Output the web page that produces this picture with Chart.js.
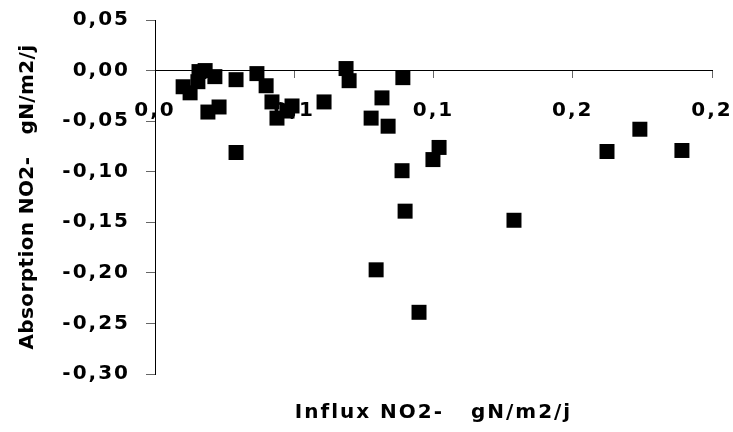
<!DOCTYPE html>
<html>
<head>
<meta charset="utf-8">
<script src="https://cdn.jsdelivr.net/npm/chart.js@4/dist/chart.umd.min.js"></script>
<style>
  html, body { margin: 0; padding: 0; background: #fff; }
  #wrap { width: 733px; height: 432px; }
</style>
</head>
<body>
<div id="wrap"><canvas id="influxChart"></canvas></div>
<script>
// Influx vs absorption NO2- (gN/m2/j)
const influx = [0.0101, 0.0126, 0.0158, 0.0180, 0.0154, 0.0215, 0.0190, 0.0230, 0.0291, 0.0291,
                0.0366, 0.0399, 0.0420, 0.0438, 0.0492, 0.0474, 0.0607, 0.0686, 0.0697, 0.0776,
                0.0815, 0.0837, 0.0890, 0.0887, 0.0898, 0.0794, 0.0948, 0.0998, 0.1020, 0.1289,
                0.1623, 0.1741, 0.1892];
const absorption = [-0.016, -0.022, -0.001, 0.000, -0.011, -0.006, -0.041, -0.036, -0.009, -0.081,
                    -0.003, -0.015, -0.031, -0.047, -0.035, -0.040, -0.031, 0.002, -0.010, -0.047,
                    -0.027, -0.055, -0.007, -0.099, -0.139, -0.197, -0.239, -0.088, -0.076, -0.148,
                    -0.080, -0.058, -0.079];
const xTickLabels = ['0,0', '0,1', '0,1', '0,2', '0,2'];
const yTickLabels = ['-0,30', '-0,25', '-0,20', '-0,15', '-0,10', '-0,05', '0,00', '0,05'];

const FONT = "'DejaVu Sans', sans-serif";

// canvas letter spacing, like the stretched Excel text
const spacingPlugin = {
    id: 'spacing',
    beforeDraw(chart) {
        chart.ctx.letterSpacing = '2px';
        Object.values(chart.scales).forEach(s => {
            if (s._spaced) return;
            const orig = s.drawTitle.bind(s);
            s.drawTitle = function() {
                this.ctx.save();
                this.ctx.letterSpacing = this.options.title.spacing || '0px';
                orig();
                this.ctx.restore();
            };
            s._spaced = true;
        });
    }
};

document.addEventListener('DOMContentLoaded', () => {
    const ctx = document.getElementById('influxChart');
    new Chart(ctx, {
        type: 'scatter',
        data: {
            datasets: [{
                data: influx.map((x, i) => ({ x: x, y: absorption[i] })),
                pointStyle: 'rect',
                pointRadius: 10.6,
                pointHoverRadius: 10.6,
                backgroundColor: '#000',
                borderColor: '#000',
                borderWidth: 0
            }]
        },
        options: {
            responsive: true,
            maintainAspectRatio: false,
            animation: false,
            layout: { padding: { left: 0, right: 21, top: 20, bottom: 0 } },
            plugins: { legend: { display: false }, tooltip: { enabled: false } },
            scales: {
                x: {
                    type: 'linear',
                    position: { y: 0 },
                    min: 0,
                    max: 0.2,
                    ticks: {
                        stepSize: 0.05,
                        padding: 21,
                        maxRotation: 0,
                        color: '#000',
                        font: { family: FONT, size: 20, weight: 'bold' },
                        callback: (v, i) => xTickLabels[i]
                    },
                    grid: { drawOnChartArea: false, drawTicks: true, tickLength: 7, color: '#666' },
                    border: { display: true, color: '#000', width: 1 },
                    afterFit: (s) => { s.paddingLeft = 0; s.paddingRight = 0; }
                },
                xTitle: {
                    type: 'linear',
                    axis: 'x',
                    position: 'bottom',
                    min: 0,
                    max: 0.2,
                    ticks: { display: false },
                    grid: { display: false },
                    border: { display: false },
                    title: {
                        display: true,
                        text: 'Influx NO2-   gN/m2/j',
                        color: '#000',
                        spacing: '2px',
                        font: { family: FONT, size: 20, weight: 'bold' },
                        padding: { top: 0, bottom: 7 }
                    },
                    afterFit: (s) => { s.height = 58; }
                },
                y: {
                    type: 'linear',
                    position: 'left',
                    min: -0.30,
                    max: 0.05,
                    ticks: {
                        stepSize: 0.05,
                        padding: 16,
                        color: '#000',
                        font: { family: FONT, size: 20, weight: 'bold' },
                        callback: (v, i) => yTickLabels[i]
                    },
                    grid: { drawOnChartArea: false, drawTicks: true, tickLength: 9, color: '#666' },
                    border: { display: true, color: '#000', width: 1 },
                    title: {
                        display: true,
                        text: 'Absorption NO2-   gN/m2/j',
                        color: '#000',
                        spacing: '0.4px',
                        font: { family: FONT, size: 20, weight: 'bold' },
                        padding: { top: 16, bottom: 0 }
                    },
                    afterFit: (s) => { s.width = 155; s.paddingTop = 0; s.paddingBottom = 0; }
                }
            }
        },
        plugins: [spacingPlugin]
    });
});
</script>
</body>
</html>
